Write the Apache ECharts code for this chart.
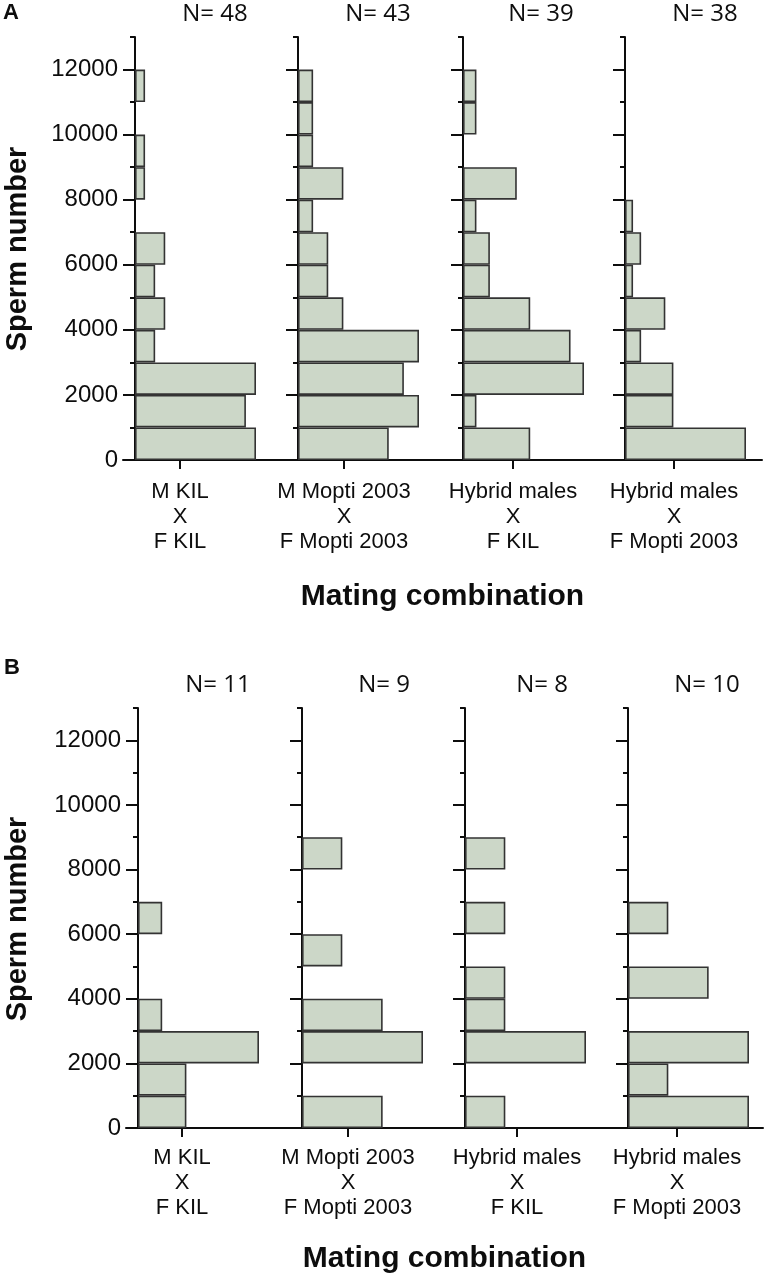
<!DOCTYPE html>
<html><head><meta charset="utf-8">
<script src="https://cdn.jsdelivr.net/npm/echarts@6/dist/echarts.min.js"></script>
<style>html,body{margin:0;padding:0;background:#fff}#c{width:768px;height:1285px}</style>
</head><body><div id="c"></div>
<script>
// ---------- DATA ----------
const bins = ['0-1000','1000-2000','2000-3000','3000-4000','4000-5000','5000-6000','6000-7000','7000-8000','8000-9000','9000-10000','10000-11000','11000-12000','12000-13000'];
const yTickValues = [0, 2000, 4000, 6000, 8000, 10000, 12000];
const combinations = ['M KIL\nX\nF KIL', 'M Mopti 2003\nX\nF Mopti 2003', 'Hybrid males\nX\nF KIL', 'Hybrid males\nX\nF Mopti 2003'];
const axisTitleX = 'Mating combination';
const axisTitleY = 'Sperm number';
const sampleSizesA = [48, 43, 39, 38];
const sampleSizesB = [11, 9, 8, 10];
// counts per 1000-sperm bin, from 0-1000 upwards
const countsA_KIL       = [12, 11, 12, 2, 3, 2, 3, 0, 1, 1, 0, 1, 0];
const countsA_Mopti     = [6, 8, 7, 8, 3, 2, 2, 1, 3, 1, 1, 1, 0];
const countsA_HybKIL    = [5, 1, 9, 8, 5, 2, 2, 1, 4, 0, 1, 1, 0];
const countsA_HybMopti  = [15, 6, 6, 2, 5, 1, 2, 1, 0, 0, 0, 0, 0];
const countsB_KIL       = [2, 2, 5, 1, 0, 0, 1, 0, 0, 0, 0, 0, 0];
const countsB_Mopti     = [2, 0, 3, 2, 0, 1, 0, 0, 1, 0, 0, 0, 0];
const countsB_HybKIL    = [1, 0, 3, 1, 1, 0, 1, 0, 1, 0, 0, 0, 0];
const countsB_HybMopti  = [3, 1, 3, 0, 2, 0, 1, 0, 0, 0, 0, 0, 0];

// ---------- LAYOUT ----------
const FONT = '"Liberation Sans", Arial, Helvetica, sans-serif';
const NFONT = '"Open Sans", "Noto Sans", sans-serif';
const INK = '#0d0d0d';
const BAR_W = 121;
const panels = [
  {letter:'A', letterXY:[11,13], top:37, height:423, axes:[135,298,463,625], lineL:123, lineR:762,
   ticks:[180,344,513,674], nY:14, nX:[215,378,541,705], titleY:597, ylabY:249, labelMargin:19,
   n:sampleSizesA, counts:[countsA_KIL, countsA_Mopti, countsA_HybKIL, countsA_HybMopti]},
  {letter:'B', letterXY:[12,668], top:708, height:420, axes:[138,302,465,628], lineL:126, lineR:763,
   ticks:[182,348,517,677], nY:685, nX:[218,384,542,707], titleY:1259, ylabY:919, labelMargin:17,
   n:sampleSizesB, counts:[countsB_KIL, countsB_Mopti, countsB_HybKIL, countsB_HybMopti]}
];

const grid = [], xAxis = [], yAxis = [], series = [], graphic = [];
panels.forEach(P => {
  P.counts.forEach((c, j) => {
    const gi = grid.length;
    grid.push({left:P.axes[j], top:P.top, width:BAR_W, height:P.height, containLabel:false});
    const xi = xAxis.length;
    xAxis.push({type:'value', gridIndex:gi, min:0, max:Math.max(...c), show:false});
    const yc = yAxis.length;
    yAxis.push({type:'category', gridIndex:gi, data:bins, show:false});
    yAxis.push({type:'value', gridIndex:gi, min:0, max:13000, interval:1000, position:'left', offset:0,
      axisLine:{show:true, onZero:false, lineStyle:{color:INK, width:2}},
      axisTick:{show:true, length:5, lineStyle:{color:INK, width:2}},
      axisLabel:{show:j===0, customValues:yTickValues, formatter:v => String(v), fontSize:24, color:INK, fontFamily:FONT, margin:17},
      splitLine:{show:false}});
    yAxis.push({type:'value', gridIndex:gi, min:0, max:13000, position:'left', offset:0,
      axisLine:{show:false},
      axisTick:{show:true, customValues:yTickValues, length:12, lineStyle:{color:INK, width:2}},
      axisLabel:{show:false}, splitLine:{show:false}});
    series.push({type:'bar', xAxisIndex:xi, yAxisIndex:yc, barCategoryGap:'0%',
      data:c.map(v => v === 0 ? '-' : v),
      itemStyle:{color:'#ccd7c8', borderColor:'#333333', borderWidth:1.6}, silent:true});
    graphic.push({type:'text', x:P.nX[j], y:P.nY,
      style:{text:'N= ' + P.n[j], font:'24px ' + NFONT, fill:INK, textAlign:'center', textVerticalAlign:'middle'}});
  });
  // overlay baseline with category ticks
  const go = grid.length;
  grid.push({left:P.lineL, top:P.top, width:P.lineR - P.lineL, height:P.height});
  xAxis.push({type:'value', gridIndex:go, min:P.lineL, max:P.lineR, position:'bottom',
    axisLine:{show:true, onZero:false, lineStyle:{color:INK, width:2}},
    axisTick:{show:true, customValues:P.ticks, length:9, lineStyle:{color:INK, width:2}},
    axisLabel:{customValues:P.ticks, fontSize:22, lineHeight:25, color:INK, fontFamily:FONT, margin:P.labelMargin,
      formatter: v => { let k = 0; P.ticks.forEach((t, i) => { if (Math.abs(t - v) < Math.abs(P.ticks[k] - v)) k = i; }); return combinations[k]; }},
    splitLine:{show:false}});
  yAxis.push({type:'value', gridIndex:go, min:0, max:1, show:false});
  graphic.push({type:'text', x:P.letterXY[0], y:P.letterXY[1],
    style:{text:P.letter, font:'bold 22px ' + FONT, fill:INK, textAlign:'center', textVerticalAlign:'middle'}});
  graphic.push({type:'text', x:(P.lineL + P.lineR) / 2, y:P.titleY,
    style:{text:axisTitleX, font:'bold 30px ' + FONT, fill:INK, textAlign:'center', textVerticalAlign:'middle'}});
  graphic.push({type:'text', x:18, y:P.ylabY, rotation:Math.PI / 2,
    style:{text:axisTitleY, font:'bold 29px ' + FONT, fill:INK, textAlign:'center', textVerticalAlign:'middle'}});
});

const chart = echarts.init(document.getElementById('c'), null, {renderer:'canvas'});
chart.setOption({animation:false, backgroundColor:'#ffffff', grid, xAxis, yAxis, series, graphic});
</script>
</body></html>
